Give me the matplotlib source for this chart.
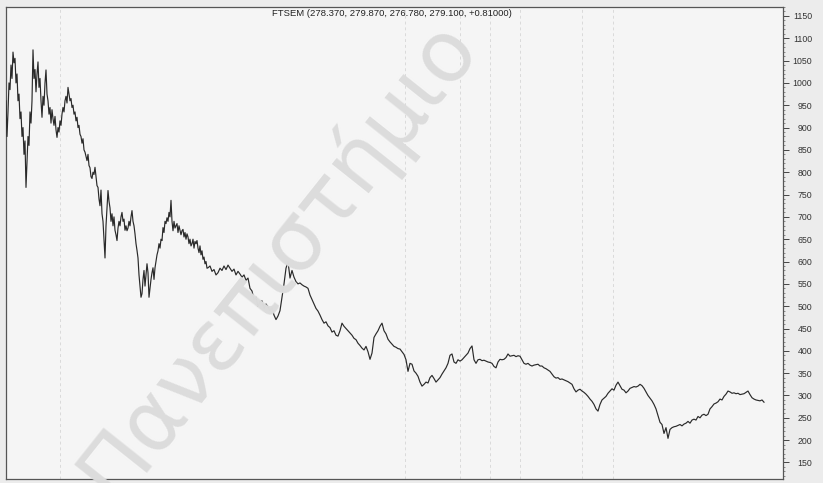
import matplotlib
matplotlib.use("Agg")
import matplotlib.pyplot as plt
from matplotlib.ticker import MultipleLocator
import numpy as np

# FTSEM closing levels (first block: one value per day)
price_a = [
    960, 880, 935, 1000, 985, 1040, 1010, 1069, 1045, 1055,
    1000, 1020, 960, 975, 920, 935, 880, 900, 840, 870,
    766, 820, 880, 860, 935, 910, 960, 1074, 1010, 1030,
    980, 1020, 1047, 990, 1010, 960, 923, 970, 950, 1000,
    1029, 975, 960, 930, 945, 910, 940, 920, 905, 925,
    895, 878, 900, 890, 915, 905, 930, 945, 935, 960,
    970, 955, 990, 975, 960, 965, 945, 950, 930, 935,
    915, 923, 900, 905, 885, 880, 865, 875, 850, 845,
    835, 826, 840, 815, 810, 790, 786, 800, 795, 811,
    790, 770, 766, 740, 725, 760, 707, 690, 650, 608,
    680, 720, 759, 735, 720, 690, 707, 680, 700, 670,
    660, 647, 675, 690, 680, 700, 710, 690, 695, 670,
    680, 669, 675, 690, 680, 700, 714, 690, 680, 662,
    640, 625, 608, 570, 545, 520, 528, 560, 580, 545,
    570, 595, 575, 520, 541, 560, 575, 586, 560, 586,
    600, 615, 624, 640, 630, 650, 647, 676, 665, 690,
    685, 698, 690, 710, 700, 737, 690, 669, 690, 675,
    680, 685, 665, 680, 670, 660, 669, 672, 655, 665,
    650, 662, 655, 640, 650, 635, 640, 650, 630, 645,
    640, 647, 630, 620, 635, 615, 624, 605, 610, 595,
    600, 585, 586,
]

# second block: one value every second day
price_b = [
    590, 578, 582, 570, 575, 585, 580, 590, 582, 592,
    585, 578, 583, 570, 578, 572, 565, 570, 558, 563,
    540, 534, 515, 520, 500, 510, 512, 495, 505, 498,
    490, 496, 480, 470, 478, 490, 520, 550, 585, 600,
    563, 580, 565, 555, 550, 552, 548, 545, 543, 540,
    525, 515, 505, 495, 489, 480, 470, 462, 465, 456,
    452, 442, 445, 435, 433, 445, 462, 455, 450, 445,
    440, 435, 428, 425, 417, 412, 406, 402, 410, 398,
    381, 395, 430, 438, 445, 455, 462, 445, 438, 426,
    420, 415, 410, 408, 405, 404, 398, 392, 380, 354,
    372, 370, 355, 350, 343, 330, 321, 325, 330, 328,
    340, 345, 338, 330, 335, 340, 348, 355, 362, 372,
    390, 393, 375, 372, 380, 377, 380, 385, 390, 395,
    405, 411, 380, 372, 380, 381, 378, 379, 377, 375,
    374, 372, 365, 362, 375, 381, 380, 381, 385, 393,
    388, 389, 390, 387, 389, 388, 380, 372, 370, 372,
    368, 366, 368, 369, 370, 366, 366, 362, 360, 357,
    354, 348, 342, 339, 340, 336, 337, 335, 333, 331,
    328, 325, 315, 308, 312, 314, 310, 307, 303, 298,
    292, 287, 280, 270, 265, 280, 290, 294, 298, 305,
    310, 315, 312, 323, 330, 322, 314, 312, 306, 310,
    316, 318, 320, 319, 321, 325, 322, 316, 308, 300,
    294, 288, 280, 270, 255, 240, 235, 215, 228, 204,
    224, 228, 230, 231, 233, 235, 232, 236, 238, 242,
    238, 245, 247, 245, 253, 250, 256, 258, 255, 258,
    270, 275, 281, 283, 286, 292, 290, 298, 303, 310,
    308, 305, 306, 304, 305, 302, 303, 304, 307, 310,
    302, 295, 292, 290, 289, 288, 290, 285,
]

days_a = np.arange(6, 6 + len(price_a))
days_b = np.arange(210, 210 + 2 * len(price_b), 2)
days = np.concatenate([days_a, days_b])
price = np.array(price_a + price_b)

title = "FTSEM (278.370, 279.870, 276.780, 279.100, +0.81000)"
grid_days = [60, 405, 460, 490, 520, 582, 613]

fig = plt.figure(figsize=(8.23, 4.83), dpi=100, facecolor="#ececec")
ax = fig.add_axes([6 / 823, 1 - 479 / 483, 777 / 823, 472 / 483])
ax.set_facecolor("#f5f5f5")

for d in grid_days:
    ax.axvline(d, color="#dadada", lw=0.7, ls=(0, (3, 3)), zorder=0)

# watermark (runs off the bottom edge, as in the scan)
fig.text(0.337, 0.466, "Πανεπιστήμιο", fontsize=61, rotation=51.5,
         color="#dcdcdc", ha="center", va="center", zorder=0,
         family=["DejaVu Sans"])

ax.plot(days, price, color="#2a2a2a", lw=0.85, zorder=3)

ax.set_xlim(6, 783)
ax.set_ylim(113, 1170)

ax.yaxis.tick_right()
ax.set_yticks(np.arange(150, 1151, 50))
ax.yaxis.set_minor_locator(MultipleLocator(10))
ax.tick_params(axis="y", which="major", length=4, width=0.7, color="#444444",
               labelsize=6.3, labelcolor="#333333", pad=17)
ax.tick_params(axis="y", which="minor", length=1.5, width=0.5, color="#666666")
for lab in ax.get_yticklabels():
    lab.set_horizontalalignment("right")
    lab.set_family("Liberation Sans")
ax.set_xticks([])

for s in ax.spines.values():
    s.set_color("#555555")
    s.set_linewidth(0.9)

ax.text(0.497, 0.995, title, transform=ax.transAxes, ha="center", va="top",
        fontsize=6.8, color="#222222", family="Liberation Sans")

plt.savefig("out.png", dpi=100, facecolor=fig.get_facecolor())
plt.close(fig)
